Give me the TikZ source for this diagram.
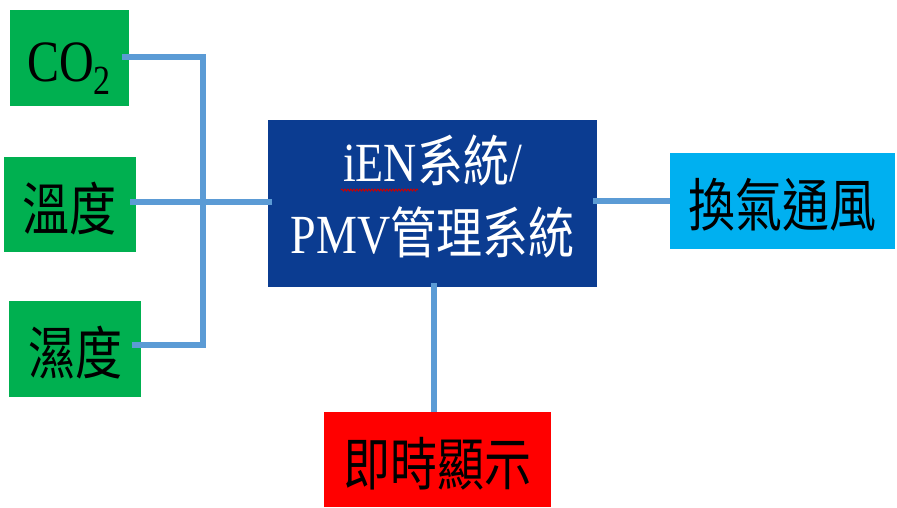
\documentclass[tikz,border=0pt]{standalone}
\usepackage{fontspec}
\usepackage{graphicx}
\setmainfont{Liberation Serif}
\newfontfamily\cjk{Noto Sans CJK TC}
\usetikzlibrary{decorations.pathmorphing}
\definecolor{boxgreen}{HTML}{00B050}
\definecolor{boxnavy}{HTML}{0B3C91}
\definecolor{boxcyan}{HTML}{00B0F0}
\definecolor{boxred}{HTML}{FF0000}
\definecolor{linkblue}{HTML}{5B9BD5}
\newcommand\ctext[1]{\raisebox{-4pt}[\height][\depth]{\scalebox{1}[1.22]{#1}}}
\begin{document}
\begin{tikzpicture}[x=1pt,y=-1pt,
  blk/.style={rectangle, inner sep=0pt, text=black, font=\cjk\fontsize{47}{56}\selectfont},
  conn/.style={draw=linkblue, line width=6pt, line join=miter, line cap=butt}]
\useasboundingbox (0,0) rectangle (897,507);
% boxes
\node[blk, fill=boxgreen, minimum width=119pt, minimum height=96pt] (co2) at (69.5,58) {};
\node[inner sep=0pt, font=\rmfamily\fontsize{48}{56}\selectfont] (co2t) at (69,62)
  {\scalebox{1}[1.22]{CO\raisebox{-11pt}[0pt][0pt]{\fontsize{34}{40}\selectfont 2}}};
\node[blk, fill=boxgreen, minimum width=132pt, minimum height=95pt] (temp) at (70,204.5) {\ctext{溫度}};
\node[blk, fill=boxgreen, minimum width=132pt, minimum height=96pt] (hum) at (75,349) {\ctext{濕度}};
\node[blk, fill=boxnavy, text=white, minimum width=329pt, minimum height=167pt] (sys) at (432.5,203.5)
  {\scalebox{1}[1.2]{\fontsize{46}{60}\selectfont\begin{tabular}{@{}c@{}}\rmfamily iEN{\cjk 系統}/\\\rmfamily PMV{\cjk 管理系統}\end{tabular}}};
\node[blk, fill=boxcyan, minimum width=225pt, minimum height=96pt] (vent) at (782.5,201) {\ctext{換氣通風}};
\node[blk, fill=boxred, minimum width=227pt, minimum height=95pt] (disp) at (437.5,459.5) {\ctext{即時顯示}};
% spell-check underline
\coordinate (ulA) at (341,190);
\coordinate (ulB) at (418,190);
\draw[red!80!black, line width=0.9pt, decorate, decoration={snake, amplitude=1pt, segment length=3pt}] (ulA) -- (ulB);
% connectors
\coordinate (bus) at (203,202);
\draw[conn] ([xshift=-7pt,yshift=1pt]co2.east) -| (bus) |- ([xshift=-9pt,yshift=4pt]hum.east);
\draw[conn] ([xshift=-6pt,yshift=2.5pt]temp.east) -- ([xshift=4pt,yshift=1.5pt]sys.west);
\draw[conn] ([xshift=-4pt,yshift=2.5pt]sys.east) -- ([yshift=0pt]vent.west);
\draw[conn] ([xshift=1pt,yshift=4pt]sys.south) -- ([xshift=1pt]sys.south |- disp.north);
\end{tikzpicture}
\end{document}
